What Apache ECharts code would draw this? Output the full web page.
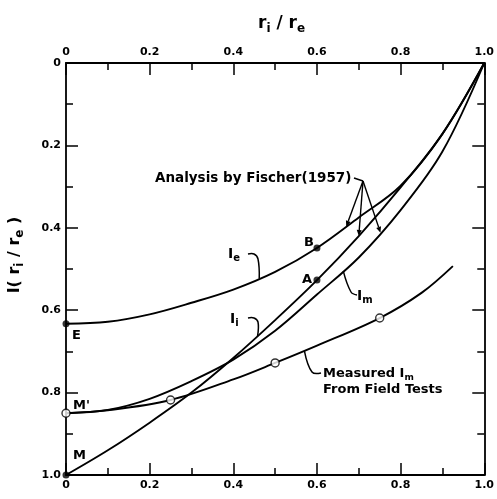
<!DOCTYPE html>
<html>
<head>
<meta charset="utf-8">
<script src="https://cdn.jsdelivr.net/npm/echarts@6/dist/echarts.min.js"></script>
<style>
  html, body { margin: 0; padding: 0; background: #fff; }
  #chart { width: 497px; height: 499px; }
</style>
</head>
<body>
<div id="chart"></div>
<script>
// Tick positions and their printed labels (both axes run 0 .. 1.0)
const ratioTicks = [0, 0.2, 0.4, 0.6, 0.8, 1.0];
const tickLabels = ['0', '0.2', '0.4', '0.6', '0.8', '1.0'];

// I_e curve (Fischer 1957)
const ieX = [0, 0.1, 0.2, 0.3, 0.4, 0.5, 0.6, 0.7, 0.8, 0.9, 1.0];
const ieY = [0.633, 0.628, 0.61, 0.582, 0.55, 0.507, 0.449, 0.375, 0.298, 0.172, 0];

// I_i curve (Fischer 1957)
const iiX = [0, 0.1, 0.2, 0.3, 0.4, 0.5, 0.6, 0.7, 0.8, 0.9, 1.0];
const iiY = [1.0, 0.94, 0.873, 0.80, 0.716, 0.624, 0.527, 0.42, 0.302, 0.172, 0];

// I_m curve (Fischer 1957)
const imX = [0, 0.1, 0.2, 0.3, 0.4, 0.5, 0.6, 0.7, 0.8, 0.9, 1.0];
const imY = [0.85, 0.842, 0.815, 0.772, 0.72, 0.65, 0.562, 0.472, 0.357, 0.215, 0];

// Measured I_m from field tests
const fieldX = [0, 0.1, 0.25, 0.4, 0.5, 0.6, 0.75, 0.85, 0.925];
const fieldY = [0.85, 0.843, 0.818, 0.768, 0.728, 0.686, 0.619, 0.558, 0.493];
const fieldTestIdx = [0, 2, 4, 6];   // points drawn as open circles

const pairs = (xs, ys) => xs.map((x, i) => [x, ys[i]]);
const fmt = v => {
  const k = ratioTicks.findIndex(t => Math.abs(t - v) < 1e-9);
  return k >= 0 ? tickLabels[k] : '';
};
const interp = (xs, ys, x) => {
  for (let i = 0; i < xs.length - 1; i++) {
    if (x >= xs[i] && x <= xs[i + 1]) {
      const t = (x - xs[i]) / (xs[i + 1] - xs[i]);
      return ys[i] + t * (ys[i + 1] - ys[i]);
    }
  }
  return ys[ys.length - 1];
};

const INK = '#000';
const FONT = 'DejaVu Sans';
const axisLine = { show: true, onZero: false, lineStyle: { color: INK, width: 1.8 } };
const axisTick = { show: true, inside: true, length: 12, lineStyle: { color: INK, width: 1.5 } };
const minorTick = { show: true, splitNumber: 2, length: 7, lineStyle: { color: INK, width: 1.5 } };
const axisLabel = { show: true, formatter: fmt, color: INK, fontFamily: FONT, fontSize: 11,
  fontWeight: 'bold', margin: 5 };

const lineSeries = (name, data) => ({
  name, type: 'line', data, smooth: 0.35, showSymbol: false, symbol: 'none',
  lineStyle: { color: INK, width: 1.9 }, z: 3, silent: true
});

const chart = echarts.init(document.getElementById('chart'), null, { renderer: 'canvas' });

chart.setOption({
  animation: false,
  backgroundColor: '#fff',
  grid: { left: 66, top: 63, width: 424, height: 412, containLabel: false },
  xAxis: [
    { type: 'value', position: 'top', min: 0, max: 1, interval: 0.2,
      axisLine, axisTick, minorTick, axisLabel, splitLine: { show: false } },
    { type: 'value', position: 'bottom', min: 0, max: 1, interval: 0.2,
      axisLine, axisTick, minorTick, axisLabel, splitLine: { show: false } }
  ],
  yAxis: [
    { type: 'value', position: 'left', inverse: true, min: 0, max: 1, interval: 0.2,
      axisLine, axisTick, minorTick, axisLabel, splitLine: { show: false } },
    { type: 'value', position: 'right', inverse: true, min: 0, max: 1, interval: 0.2,
      axisLine, axisTick, minorTick, axisLabel: { show: false }, splitLine: { show: false } }
  ],
  series: [
    lineSeries('Ie', pairs(ieX, ieY)),
    lineSeries('Ii', pairs(iiX, iiY)),
    lineSeries('Im', pairs(imX, imY)),
    lineSeries('Measured Im', pairs(fieldX, fieldY)),
    { type: 'scatter', clip: false, z: 5, silent: true,
      symbol: 'circle', symbolSize: 7,
      itemStyle: { color: INK },
      data: [[ieX[0], ieY[0]], [iiX[0], iiY[0]], [ieX[6], ieY[6]], [iiX[6], iiY[6]]] },
    { type: 'scatter', clip: false, z: 5, silent: true,
      symbol: 'circle', symbolSize: 8,
      itemStyle: { color: '#fff', borderColor: INK, borderWidth: 1.4 },
      data: fieldTestIdx.map(i => [fieldX[i], fieldY[i]]) }
  ]
});

// ---- annotations ----
const px = (x, y) => chart.convertToPixel({ xAxisIndex: 0, yAxisIndex: 0 }, [x, y]);
const onCurve = (xs, ys, x) => px(x, interp(xs, ys, x));

const subRich = (size) => ({
  m: { fontSize: size, fontFamily: FONT, fontWeight: 'bold', fill: INK },
  s: { fontSize: Math.round(size * 0.72), fontFamily: FONT, fontWeight: 'bold', fill: INK,
       padding: [Math.round(size * 0.55), 0, 0, 0] }
});
const text = (x, y, str, size, extra) => ({
  type: 'text', x, y, silent: true, z: 10,
  style: Object.assign({ text: str, fontSize: size, fontFamily: FONT, fontWeight: 'bold', fill: INK,
    textAlign: 'left', textVerticalAlign: 'middle', rich: subRich(size) }, extra || {})
});
const poly = (points) => ({
  type: 'polyline', silent: true, z: 9,
  shape: { points, smooth: 0.4 },
  style: { stroke: INK, lineWidth: 1.5, fill: null }
});
const arrow = (from, to) => {
  const dx = to[0] - from[0], dy = to[1] - from[1];
  const L = Math.hypot(dx, dy), ux = dx / L, uy = dy / L;
  const hl = 6, hw = 2.5;
  const bx = to[0] - ux * hl, by = to[1] - uy * hl;
  return [
    { type: 'line', silent: true, z: 9, shape: { x1: from[0], y1: from[1], x2: bx, y2: by },
      style: { stroke: INK, lineWidth: 1.4 } },
    { type: 'polygon', silent: true, z: 9,
      shape: { points: [to, [bx - uy * hw, by + ux * hw], [bx + uy * hw, by - ux * hw]] },
      style: { fill: INK } }
  ];
};

const ieHook = onCurve(ieX, ieY, 0.462);
const iiHook = onCurve(iiX, iiY, 0.458);
const imHook = onCurve(imX, imY, 0.663);
const fieldHook = onCurve(fieldX, fieldY, 0.57);
const fork = [363, 181];
const tips = [onCurve(ieX, ieY, 0.67), onCurve(iiX, iiY, 0.70), onCurve(imX, imY, 0.752)];

const elements = [
  // axis titles
  text(258, 24, '{m|r}{s|i}{m| / r}{s|e}', 17),
  Object.assign(text(15, 255, '{m|I( r}{s|i}{m| / r}{s|e}{m| )}', 16, { textAlign: 'center' }),
    { rotation: Math.PI / 2 }),
  // point letters
  text(72, 336, 'E', 13),
  text(73, 406, "M'", 13),
  text(73, 456, 'M', 13),
  text(304, 243, 'B', 13),
  text(302, 280, 'A', 13),
  // curve labels
  text(228, 254, '{m|I}{s|e}', 14),
  text(230, 319, '{m|I}{s|i}', 14),
  text(357, 296, '{m|I}{s|m}', 14),
  // hooks to curves
  poly([[248, 254], [254, 254], [258, 259], ieHook]),
  poly([[248, 318], [254, 318], [258, 322], iiHook]),
  poly([imHook, [351, 292], [357, 295]]),
  poly([fieldHook, [312, 372], [321, 373]]),
  // Fischer annotation
  text(155, 178, 'Analysis by Fischer(1957)', 13.5),
  { type: 'line', silent: true, z: 9, shape: { x1: 354, y1: 178, x2: fork[0], y2: fork[1] },
    style: { stroke: INK, lineWidth: 1.4 } },
  ...arrow(fork, tips[0]), ...arrow(fork, tips[1]), ...arrow(fork, tips[2]),
  // field test caption
  text(323, 374, '{m|Measured I}{s|m}', 13),
  text(323, 390, 'From Field Tests', 13)
];

chart.setOption({ graphic: { elements } });
</script>
</body>
</html>
